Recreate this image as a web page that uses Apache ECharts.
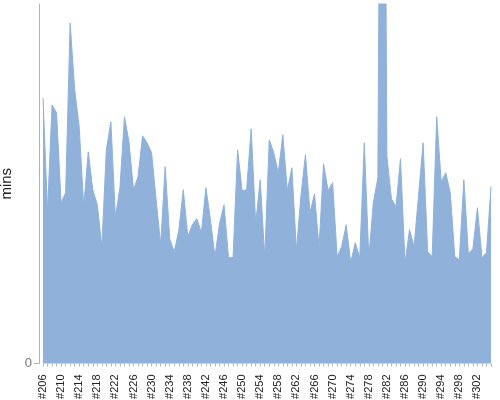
<!DOCTYPE html>
<html>
<head>
<meta charset="utf-8">
<script src="https://cdn.jsdelivr.net/npm/echarts@6/dist/echarts.min.js"></script>
<style>html,body{margin:0;padding:0;background:#fff}#c{width:500px;height:400px}</style>
</head>
<body>
<div id="c"></div>
<script>
const firstBuild = 206;
const buildCount = 100;
const categories = [];
for (let i = 0; i < buildCount; i++) categories.push('#' + (firstBuild + i));

const minutes = [
  266, 152, 259, 251, 161, 171, 341, 274, 237, 157,
  212, 174, 159, 117, 214, 242, 146, 176, 247, 222,
  174, 187, 228, 221, 211, 164, 119, 197, 125, 112,
  133, 174, 127, 139, 145, 131, 176, 144, 107, 140,
  159, 106, 106, 214, 173, 174, 235, 140, 184, 106,
  224, 211, 191, 229, 173, 196, 113, 168, 209, 151,
  170, 116, 200, 173, 181, 107, 117, 139, 101, 121,
  106, 221, 106, 161, 186, 1000, 207, 165, 157, 205,
  101, 134, 117, 169, 221, 112, 107, 247, 182, 191,
  171, 107, 104, 184, 110, 115, 156, 106, 111, 177
];

const yMax = 360;
const yTickValues = [0];

const chart = echarts.init(document.getElementById('c'), null, {renderer: 'canvas'});
chart.setOption({
  animation: false,
  backgroundColor: '#ffffff',
  textStyle: {fontFamily: 'Liberation Sans, Arial, sans-serif'},
  grid: {left: 43, right: 9, top: 4, bottom: 36.5, containLabel: false, outerBoundsMode: 'none'},
  xAxis: {
    type: 'category',
    data: categories,
    boundaryGap: false,
    offset: 3,
    axisLine: {show: false},
    axisTick: {show: true, interval: 0, length: 3, lineStyle: {color: '#b4b4b4', width: 1}},
    axisLabel: {interval: 3, rotate: 90, fontSize: 11, color: '#222', margin: 8,
      fontFamily: 'Liberation Sans, Arial, sans-serif'},
    splitLine: {show: false}
  },
  yAxis: {
    type: 'value',
    min: 0,
    max: yMax,
    offset: 4,
    name: 'mins',
    nameLocation: 'middle',
    nameGap: 18,
    nameRotate: 90,
    nameTextStyle: {fontSize: 15, color: '#222', fontFamily: 'Liberation Sans, Arial, sans-serif'},
    axisLine: {show: true, lineStyle: {color: '#b4b4b4', width: 1}},
    axisTick: {show: true, length: 5, customValues: yTickValues, lineStyle: {color: '#b4b4b4'}},
    axisLabel: {show: true, customValues: yTickValues, fontSize: 13, color: '#777', margin: 7,
      fontFamily: 'Liberation Sans, Arial, sans-serif'},
    splitLine: {show: false}
  },
  series: [{
    type: 'line',
    data: minutes,
    showSymbol: false,
    symbol: 'none',
    clip: true,
    lineStyle: {color: '#8fb1da', width: 1},
    areaStyle: {color: '#8fb1da', opacity: 1}
  }]
});
</script>
</body>
</html>
